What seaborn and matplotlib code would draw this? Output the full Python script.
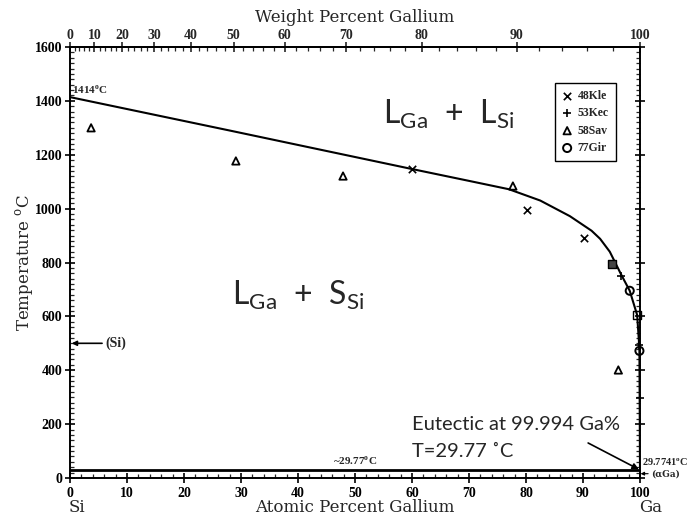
import numpy as np
import pandas as pd
import matplotlib
matplotlib.use("Agg")
import matplotlib.pyplot as plt
import seaborn as sns
from matplotlib.ticker import MultipleLocator, FixedLocator

# ---------------- data ----------------
liq_at = [0, 14, 28, 45, 60, 70, 77, 82.5, 87.7, 91.5, 93, 94.7, 96.7, 98.2, 99.5, 99.8, 99.9, 99.95, 100]
liq_T = [1414, 1352, 1290, 1214, 1147, 1103, 1072, 1030, 972, 918, 888, 840, 755, 695, 605, 512, 472, 252, 29.77]

kle_at = [60.0, 80.1, 90.1]
kle_T = [1147, 995, 892]
kec_at = [96.7, 99.9, 100.0]
kec_T = [751, 494, 297]
sav_at = [3.7, 29.1, 47.9, 77.7, 96.2]
sav_T = [1300, 1177, 1121, 1084, 401]
gir_at = [98.2, 99.9]
gir_T = [695, 472]
overlap_at = [95.1]
overlap_T = [795]
open_sq_at = [99.5]
open_sq_T = [605]

eutectic_T = 29.77
si_transition_T = 500
x_ticks = list(range(0, 101, 10))
y_ticks = list(range(0, 1601, 200))
wt_ticks = list(range(0, 101, 10))

M_GA = 69.72
M_SI = 28.09


def at2wt(x):
    x = np.asarray(x, dtype=float)
    with np.errstate(divide="ignore", invalid="ignore"):
        return 100 * x * M_GA / (x * M_GA + (100 - x) * M_SI)


def wt2at(w):
    w = np.asarray(w, dtype=float)
    with np.errstate(divide="ignore", invalid="ignore"):
        a = w / M_GA
        b = (100 - w) / M_SI
        return 100 * a / (a + b)


# ---------------- style ----------------
sns.set_theme(style="ticks")
plt.rcParams["font.family"] = ["Liberation Serif", "DejaVu Serif"]
plt.rcParams["axes.edgecolor"] = "black"
plt.rcParams["axes.linewidth"] = 1.4

fig = plt.figure(figsize=(6.97, 5.18), dpi=100)
ax = fig.add_axes([70 / 697, 1 - 478 / 518, 570 / 697, 431 / 518])

liq = pd.DataFrame({"at": liq_at, "T": liq_T})
sns.lineplot(data=liq, x="at", y="T", ax=ax, color="black", lw=1.5, sort=False)

ax.plot([0, 100], [eutectic_T, eutectic_T], color="black", lw=2.0)

ms = 28
common = dict(ax=ax, zorder=5, clip_on=False)
sns.scatterplot(x=kle_at, y=kle_T, marker="x", color="black", s=ms, linewidth=1.2, label="48Kle", **common)
sns.scatterplot(x=kec_at, y=kec_T, marker="+", color="black", s=ms + 10, linewidth=1.2, label="53Kec", **common)
sns.scatterplot(x=sav_at, y=sav_T, marker="^", color="black", facecolor="none", edgecolor="black",
                s=ms, linewidth=1.3, label="58Sav", **common)
sns.scatterplot(x=gir_at, y=gir_T, marker="o", color="black", facecolor="none", edgecolor="black",
                s=ms + 6, linewidth=1.4, label="77Gir", **common)
sns.scatterplot(x=overlap_at, y=overlap_T, marker="s", color="#444444", edgecolor="black", s=ms, linewidth=1.0,
                **common)
sns.scatterplot(x=open_sq_at, y=open_sq_T, marker="s", color="black", facecolor="none", edgecolor="black",
                s=ms, linewidth=1.0, **common)

ax.set_xlim(0, 100)
ax.set_ylim(0, 1600)
ax.set_xlabel("")
ax.set_ylabel("")

ax.xaxis.set_major_locator(FixedLocator(x_ticks))
ax.xaxis.set_minor_locator(MultipleLocator(2))
ax.yaxis.set_major_locator(FixedLocator(y_ticks))
ax.yaxis.set_minor_locator(MultipleLocator(20))
ax.tick_params(axis="both", which="major", direction="inout", length=7, width=1.2, colors="black",
               labelsize=10, top=False, right=True)
ax.tick_params(axis="both", which="minor", direction="in", length=3, width=0.9, top=False, right=True)
ax.tick_params(axis="y", which="major", pad=2)
ax.tick_params(axis="x", which="major", pad=3)
for lab in ax.get_xticklabels() + ax.get_yticklabels():
    lab.set_fontweight("bold")

sec = ax.secondary_xaxis("top", functions=(at2wt, wt2at))
sec.xaxis.set_major_locator(FixedLocator(wt_ticks))
sec.xaxis.set_minor_locator(MultipleLocator(2))
sec.tick_params(which="major", direction="inout", length=7, width=1.2, labelsize=10, pad=0)
sec.tick_params(which="minor", direction="in", length=3, width=0.9)
for lab in sec.get_xticklabels():
    lab.set_fontweight("bold")
sec.set_xlabel("Weight Percent Gallium", fontsize=12, family="DejaVu Serif", labelpad=5)

leg = ax.legend(loc="upper right", bbox_to_anchor=(0.968, 0.93), frameon=True, fancybox=False,
                edgecolor="black", framealpha=1, handlelength=0.8, handletextpad=0.5,
                borderpad=0.6, labelspacing=0.45,
                prop={"family": "Liberation Serif", "weight": "bold", "size": 8.5})
leg.get_frame().set_linewidth(1.0)

# annotations
ax.text(0.4, 1418, "1414$^\\mathregular{o}$C", fontsize=8, fontweight="bold", ha="left", va="bottom")
ax.text(50, 40, "~29.77$^\\mathregular{o}$C", fontsize=8, fontweight="bold", ha="center", va="bottom")
ax.annotate("(Si)", xy=(0.3, si_transition_T), xytext=(6.2, si_transition_T), fontsize=10, fontweight="bold",
            va="center", ha="left",
            arrowprops=dict(arrowstyle="-|>", color="black", lw=1.2, mutation_scale=7, shrinkA=0, shrinkB=0))
ax.text(100.4, 58, "29.7741$^\\mathregular{o}$C", fontsize=7.5, fontweight="bold", ha="left", va="center",
        clip_on=False)
ax.annotate("(αGa)", xy=(100.1, 16), xytext=(102.0, 16), fontsize=6.5, fontweight="bold",
            family=["DejaVu Serif"], va="center", ha="left", annotation_clip=False,
            arrowprops=dict(arrowstyle="-|>", color="black", lw=0.8, mutation_scale=5, shrinkA=0, shrinkB=0))

ax.annotate("", xy=(99.8, 32), xytext=(90.9, 130),
            arrowprops=dict(arrowstyle="-|>", color="black", lw=1.2, mutation_scale=9, shrinkA=0, shrinkB=0))
ax.text(60, 197, "Eutectic at 99.994 Ga%", family=["Lato", "DejaVu Sans"], fontsize=14.5, ha="left", va="center")
ax.text(60, 100, "T=29.77 ˚C", family=["Lato", "DejaVu Sans"], fontsize=14.5, ha="left", va="center")

ax.text(66.5, 1350, "L$_\\mathregular{Ga}$  +  L$_\\mathregular{Si}$", family=["Lato", "DejaVu Sans"],
        fontsize=23, ha="center", va="center")
ax.text(40.0, 680, "L$_\\mathregular{Ga}$  +  S$_\\mathregular{Si}$", family=["Lato", "DejaVu Sans"],
        fontsize=23, ha="center", va="center")

fig.text(25 / 697, 1 - 263 / 518, "Temperature $^\\mathregular{o}$C", rotation=90, fontsize=12,
         family="DejaVu Serif", ha="center", va="center")
fig.text(355 / 697, 1 - 508 / 518, "Atomic Percent Gallium", fontsize=12, family="DejaVu Serif",
         ha="center", va="center")
fig.text(77 / 697, 1 - 508 / 518, "Si", fontsize=12, family="DejaVu Serif", ha="center", va="center")
fig.text(651 / 697, 1 - 508 / 518, "Ga", fontsize=12, family="DejaVu Serif", ha="center", va="center")

fig.savefig("out.png", dpi=100)
